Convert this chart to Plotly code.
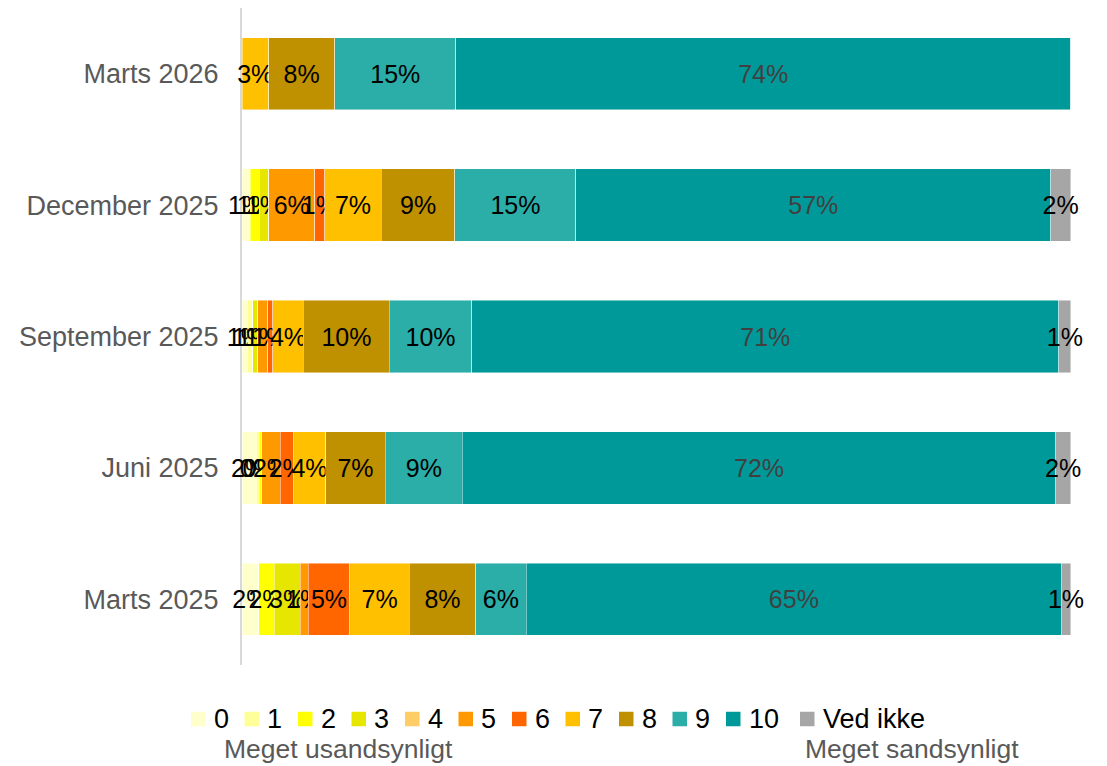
import plotly.graph_objects as go

categories = ["Marts 2025", "Juni 2025", "September 2025", "December 2025", "Marts 2026"]
series_names = ["0", "1", "2", "3", "4", "5", "6", "7", "8", "9", "10", "Ved ikke"]
colors = ["#FFFFCC", "#FFFF99", "#FFFF00", "#E6E600", "#FFCC66", "#FF9900",
          "#FF6600", "#FFC000", "#BF9000", "#2BADA8", "#009999", "#A6A6A6"]

v0 = [2.0, 1.7, 0.7, 1.0, 0]
v1 = [0, 0.4, 0.6, 0, 0]
v2 = [1.9, 0.3, 0, 1.1, 0]
v3 = [3.1, 0, 0.6, 1.1, 0]
v4 = [0, 0, 0, 0, 0]
v5 = [1.0, 2.2, 1.2, 5.6, 0]
v6 = [5.0, 1.6, 0.6, 1.2, 0]
v7 = [7.2, 3.9, 3.7, 6.8, 3.2]
v8 = [8.0, 7.2, 10.4, 8.9, 8.0]
v9 = [6.1, 9.3, 9.9, 14.6, 14.6]
v10 = [64.6, 71.6, 70.9, 57.3, 74.2]
vVI = [1.1, 1.8, 1.4, 2.4, 0]

values = [v0, v1, v2, v3, v4, v5, v6, v7, v8, v9, v10, vVI]

FONT = "Liberation Sans, Arial, sans-serif"

W, H = 1107, 766
ML, MR, MT, MB = 234, 44, 0, 109
PW, PH = W - ML - MR, H - MT - MB
OFF = 8  # page body margin


def px_to_paper_x(sx):
    return (sx - OFF - ML) / PW


def px_to_paper_y(sy):
    return (H - MB - (sy - OFF)) / PH


fig = go.Figure()
for name, col, vals in zip(series_names, colors, values):
    texts = [f"{round(v)}%" if v > 0 else "" for v in vals]
    tcol = "#404040" if name == "10" else "#000000"
    fig.add_trace(go.Bar(
        y=categories, x=vals, name=name, orientation="h",
        marker=dict(color=col, line=dict(color="rgba(255,255,255,0.6)", width=0.75)),
        text=texts, textposition="inside", insidetextanchor="middle",
        textangle=0,
        textfont=dict(family=FONT, size=25, color=tcol),
        constraintext="none", cliponaxis=False,
        hoverinfo="x+y+name", showlegend=False,
    ))

fig.update_layout(
    barmode="stack",
    bargap=0.45,
    width=W, height=H,
    margin=dict(l=ML, r=MR, t=MT, b=MB),
    plot_bgcolor="white", paper_bgcolor="white",
    font=dict(family=FONT, size=25, color="#000000"),
    uniformtext=dict(minsize=25, mode="show"),
    xaxis=dict(range=[0, 100.05], visible=False, showgrid=False, zeroline=False, fixedrange=True),
    yaxis=dict(categoryorder="array", categoryarray=categories,
               showline=True, linecolor="#D9D9D9", linewidth=2, layer="below traces",
               ticks="", showgrid=False, zeroline=False,
               tickfont=dict(family=FONT, size=27, color="#595959"),
               ticklabelstandoff=16),
    showlegend=False,
)

# manual legend (swatch + label), laid out to match the reference
leg_y = 719
sw = 14.5
for i, (name, col) in enumerate(zip(series_names, colors)):
    sx0 = 191 + 53.5 * i if i < 11 else 800
    fig.add_shape(type="rect", xref="paper", yref="paper",
                  x0=px_to_paper_x(sx0), x1=px_to_paper_x(sx0 + sw),
                  y0=px_to_paper_y(leg_y + sw / 2), y1=px_to_paper_y(leg_y - sw / 2),
                  fillcolor=col, line=dict(width=0))
    fig.add_annotation(text=name, xref="paper", yref="paper",
                       x=px_to_paper_x(sx0 + sw + 6), y=px_to_paper_y(leg_y),
                       showarrow=False, xanchor="left", yanchor="middle",
                       font=dict(family=FONT, size=27, color="#000000"))

fig.add_annotation(text="Meget usandsynligt", xref="paper", yref="paper",
                   x=px_to_paper_x(338), y=px_to_paper_y(749), showarrow=False,
                   xanchor="center", yanchor="middle",
                   font=dict(family=FONT, size=26.5, color="#595959"))
fig.add_annotation(text="Meget sandsynligt", xref="paper", yref="paper",
                   x=px_to_paper_x(912), y=px_to_paper_y(749), showarrow=False,
                   xanchor="center", yanchor="middle",
                   font=dict(family=FONT, size=26.5, color="#595959"))

fig.write_html("out.html")
